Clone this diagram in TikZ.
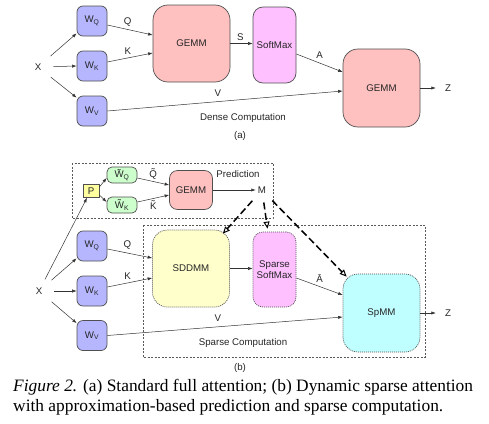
\documentclass[tikz,border=0pt]{standalone}
\usepackage{fontspec}
\setmainfont{Liberation Serif}
\setsansfont{Liberation Sans}
\usetikzlibrary{arrows.meta}
\definecolor{wblue}{RGB}{182,182,255}
\definecolor{gpink}{RGB}{255,192,192}
\definecolor{smag}{RGB}{255,192,255}
\definecolor{pgreen}{RGB}{204,255,204}
\definecolor{syellow}{RGB}{255,255,204}
\definecolor{pyellow}{RGB}{255,255,160}
\definecolor{scyan}{RGB}{192,255,255}
\definecolor{edgec}{RGB}{80,80,80}
\begin{document}
\begin{tikzpicture}[x=1pt,y=-1pt,
  lbl/.style={font=\fontsize{9.7}{10.5}\sffamily\selectfont, inner sep=0pt, text=black!85},
  box/.style={draw=edgec, line width=0.7pt, lbl, align=center},
  wbox/.style={box, fill=wblue, minimum width=30pt, minimum height=30pt, rounded corners=6pt},
  bigbox/.style={box, minimum width=77pt, minimum height=77pt, rounded corners=15pt},
  tallbox/.style={box, minimum width=43pt, minimum height=76pt, rounded corners=10pt},
  tbox/.style={box, fill=pgreen, minimum width=30pt, minimum height=16pt, rounded corners=5pt},
  dotb/.style={dash pattern=on 1pt off 1pt, draw=edgec},
  region/.style={draw=black!65, line width=0.6pt, dash pattern=on 2pt off 1.5pt},
  arr/.style={-{Latex[length=4.5pt,width=3.2pt]}, line width=0.5pt, draw=black!80},
  darr/.style={-{Triangle[open,length=7pt,width=6pt,line width=1pt]}, line width=1.5pt, dash pattern=on 7pt off 3.5pt, draw=black},
  captxt/.style={anchor=base west, inner sep=0pt, font=\fontsize{17.4}{20}\selectfont}
]
\useasboundingbox (0,0) rectangle (489,423);
\fill[white] (0,0) rectangle (489,423);

% ---------- (a) ----------
\node[lbl] (xa) at (38,67) {X};
\node[wbox] (wqa) at (92,21) {W\textsubscript{Q}};
\node[wbox] (wka) at (92,66) {W\textsubscript{K}};
\node[wbox] (wva) at (92,111) {W\textsubscript{V}};
\node[bigbox, fill=gpink] (g1) at (191.5,43.5) {GEMM};
\node[tallbox, fill=smag] (sm) at (274.5,45) {SoftMax};
\node[bigbox, fill=gpink, minimum height=78pt] (g2) at (381.5,88) {GEMM};
\node[lbl] (za) at (448,88) {Z};

\draw[arr, shorten <=12pt] (xa) -- ([yshift=3pt]wqa.south west);
\draw[arr, shorten <=12pt] (xa) -- (wka.west);
\draw[arr, shorten <=12pt] (xa) -- ([yshift=-2pt]wva.north west);
\draw[arr] ([yshift=-4pt]wqa.east) -- node[lbl, above=3pt, pos=0.45] {Q} ([yshift=8.5pt]g1.west);
\draw[arr] ([yshift=4pt]wka.east) -- node[lbl, above=3pt, pos=0.45] {K} ([yshift=-9.5pt]g1.west);
\draw[arr] (g1.east) -- node[lbl, above=3pt, pos=0.45] {S} (g1.east -| sm.west);
\draw[arr] ([yshift=-9pt]sm.east) -- node[lbl, above=4pt, pos=0.5] {A} ([yshift=16pt]g2.west);
\draw[arr] (wva.east) -- node[lbl, above=5pt, pos=0.47] {V} ([yshift=-3pt]g2.west);
\draw[arr] (g2.east) -- ([xshift=-9pt]za.west);
\node[lbl] (dense) at (243,118) {Dense Computation};
\node[lbl] (cap a) at (240,136) {(a)};

% ---------- (b) ----------
\draw[region] (72,163) rectangle (273,218);
\draw[region] (143,225) rectangle (425,357);

\node[lbl] (xb) at (39,291) {X};
\node[box, fill=pyellow, minimum width=16pt, minimum height=13pt] (pp) at (91,191) {P};
\node[tbox] (wqt) at (122,175) {\~{W}\textsubscript{Q}};
\node[tbox] (wkt) at (122,205) {\~{W}\textsubscript{K}};
\node[box, fill=gpink, minimum width=43pt, minimum height=39pt, rounded corners=8pt] (gp) at (191,190) {GEMM};
\node[lbl, inner sep=2pt] (mm) at (262,190) {M};
\node[lbl] (pred) at (238,174) {Prediction};

\node[wbox] (wqb) at (92,246) {W\textsubscript{Q}};
\node[wbox] (wkb) at (92,291) {W\textsubscript{K}};
\node[wbox] (wvb) at (92,335.5) {W\textsubscript{V}};
\node[bigbox, fill=syellow, dotb, minimum height=77pt] (sd) at (191,268.5) {SDDMM};
\node[tallbox, fill=smag, dotb, minimum height=75pt] (ssm) at (274.5,269.5) {Sparse\\SoftMax};
\node[bigbox, fill=scyan, dotb, minimum height=78pt] (sp) at (381.5,313) {SpMM};
\node[lbl] (zb) at (448,313) {Z};

\draw[arr, shorten <=9pt] (xb) -- ([xshift=-4pt]pp.south);
\draw[arr, shorten <=12pt] (xb) -- ([yshift=3pt]wqb.south west);
\draw[arr, shorten <=12pt] (xb) -- (wkb.west);
\draw[arr, shorten <=12pt] (xb) -- ([yshift=-3pt]wvb.north west);
\draw[arr] ([yshift=4pt]pp.east) -- ([yshift=-3pt]wqt.west);
\draw[arr] ([yshift=-4pt]pp.east) -- ([yshift=3pt]wkt.west);
\draw[arr] ([yshift=-3pt]wqt.east) -- node[lbl, above=2pt, pos=0.5] {\~{Q}} ([yshift=5pt]gp.west);
\draw[arr] ([yshift=3pt]wkt.east) -- node[lbl, below=2pt, pos=0.5] {\~{K}} ([yshift=-5pt]gp.west);
\draw[arr] (gp.east) -- (mm.west);

\draw[arr] ([yshift=-3pt]wqb.east) -- node[lbl, above=3pt, pos=0.45] {Q} ([yshift=10.5pt]sd.west);
\draw[arr] ([yshift=4pt]wkb.east) -- node[lbl, above=3pt, pos=0.45] {K} ([yshift=-9.5pt]sd.west);
\draw[arr] (sd.east) -- (sd.east -| ssm.west);
\draw[arr] ([yshift=-8.5pt]ssm.east) -- node[lbl, above=4pt, pos=0.5] {\={A}} ([yshift=18pt]sp.west);
\draw[arr] (wvb.east) -- node[lbl, above=5pt, pos=0.47] {V} ([yshift=-4pt]sp.west);
\draw[arr] (sp.east) -- ([xshift=-9pt]zb.west);

\draw[darr, shorten <=7pt] (mm) -- ([xshift=-7pt,yshift=-4pt]sd.north east);
\draw[darr, shorten <=7pt] (mm) -- ([xshift=-7pt,yshift=3pt]ssm.north);
\draw[darr, shorten <=7pt] (mm) -- ([xshift=4pt,yshift=-3pt]sp.north west);

\node[lbl] (sparse) at (243,343) {Sparse Computation};
\node[lbl] (cap b) at (240,368) {(b)};

% ---------- caption ----------
\node[captxt] (cap1) at (13,391) {\textit{Figure 2.} (a) Standard full attention; (b) Dynamic sparse attention};
\node[captxt] (cap2) at (13,411) {with approximation-based prediction and sparse computation.};
\end{tikzpicture}
\end{document}
